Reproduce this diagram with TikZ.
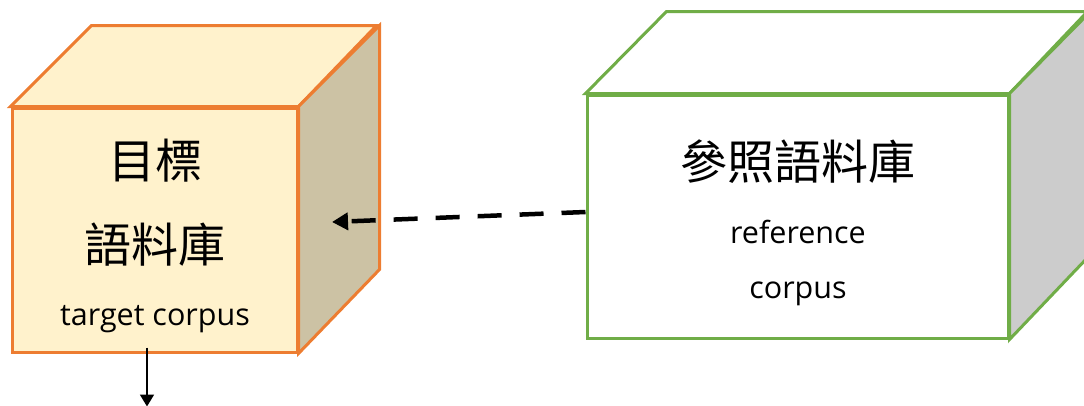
\documentclass[tikz,border=0pt]{standalone}
\usepackage{fontspec}
\setmainfont{Open Sans}
\newfontfamily\cjk{Noto Sans CJK TC}
\usetikzlibrary{arrows.meta,positioning,calc}
\definecolor{tgtline}{HTML}{ED7D31}
\definecolor{tgtfill}{HTML}{FFF2CC}
\definecolor{tgtside}{HTML}{CCC2A4}
\definecolor{refline}{HTML}{70AD47}
\definecolor{refside}{HTML}{CCCCCC}
\tikzset{
  frontface/.style={draw, line width=3pt, inner sep=0pt},
  cubeface/.style={line width=3pt, line join=miter},
  cjktxt/.style={font=\cjk\fontsize{47}{52}\selectfont, anchor=base, inner sep=0pt},
  entxt/.style={font=\fontsize{30.5}{35}\selectfont, anchor=base, inner sep=0pt},
}
\begin{document}
\begin{tikzpicture}[x=1pt,y=-1pt,>=Triangle]
\useasboundingbox (0,0) rectangle (1084,405);
% target corpus cube
\node[frontface, draw=tgtline, fill=tgtfill, minimum width=285pt, minimum height=244pt] (tgt) at (154.5,230) {};
\draw[cubeface, draw=tgtline, fill=tgtfill] (tgt.north west) -- ++(81,-81) -- ++(285,0) -- (tgt.north east) -- cycle;
\draw[cubeface, draw=tgtline, fill=tgtside] (tgt.north east) -- ++(81,-81) -- ++(0,244) -- (tgt.south east) -- cycle;
\node[cjktxt] (tgtzh1) at (155,178) {目標};
\node[cjktxt] (tgtzh2) at (155,262) {語料庫};
\node[entxt] (tgten) at (155,325) {target corpus};
% reference corpus cube
\node[frontface, draw=refline, fill=white, minimum width=421pt, minimum height=243pt] (ref) at (797.5,216.5) {};
\draw[cubeface, draw=refline, fill=white] (ref.north west) -- ++(81,-82) -- ++(421,0) -- (ref.north east) -- cycle;
\draw[cubeface, draw=refline, fill=refside] (ref.north east) -- ++(81,-82) -- ++(0,243) -- (ref.south east) -- cycle;
\node[cjktxt] (refzh) at (798,179) {參照語料庫};
\node[entxt] (refen1) at (798,243) {reference};
\node[entxt] (refen2) at (798,298) {corpus};
% arrows
\coordinate (tip) at (332,222);
\draw[line width=4.5pt, dash pattern=on 24pt off 18pt, -{Triangle[length=16pt,width=17pt]}] ($(ref.west)+(0,-4.5)$) -- (tip);
\draw[line width=1.8pt, -{Triangle[length=12pt,width=14pt]}] ($(tgt.south)+(-7.5,-6)$) -- ++(0,59);
\end{tikzpicture}
\end{document}
